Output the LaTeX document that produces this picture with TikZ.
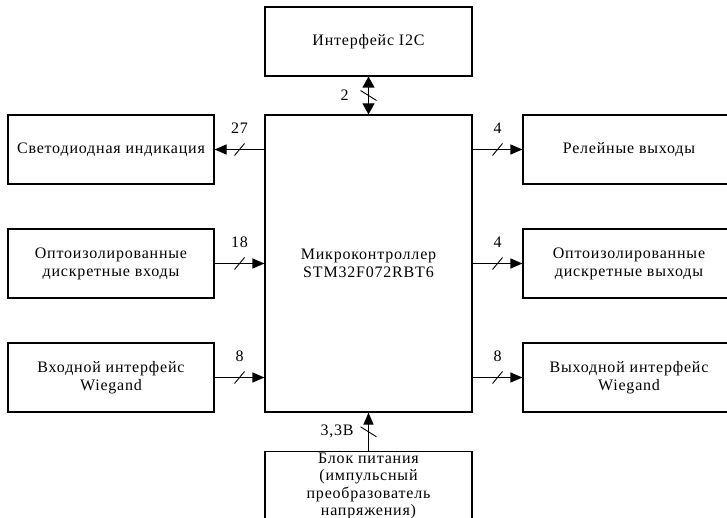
\documentclass[tikz,border=0pt]{standalone}
\usepackage{fontspec}
\setmainfont{Liberation Serif}
\newfontfamily\boxfont[LetterSpace=5]{Liberation Serif}
\usetikzlibrary{arrows.meta}

\begin{document}
\begin{tikzpicture}[x=1pt,y=-1pt,
    box/.style={draw,line width=1.2pt,align=center,inner sep=2pt,
      minimum width=206pt,minimum height=69pt,font=\boxfont\fontsize{16}{18}\selectfont},
    bus/.style={line width=1.2pt,-{Triangle[length=12pt,width=10pt]}},
    busboth/.style={line width=1.2pt,{Triangle[length=11pt,width=12pt]}-{Triangle[length=11pt,width=12pt]}},
    busmark/.style={line width=0.9pt},
    num/.style={font=\boxfont\fontsize{16}{18}\selectfont}]
  \clip (0,0) rectangle (727,518);

  % central block
  \node[box,minimum width=207pt,minimum height=297pt] (mcu) at (368.5,263.5) {Микроконтроллер\\STM32F072RBT6};
  \node[box,minimum width=207pt] (i2c) at (368.5,41.5) {Интерфейс I2C};
  \node[box,anchor=north,minimum width=207pt,minimum height=0pt,inner ysep=1pt,
    font=\boxfont\fontsize{16}{17.5}\selectfont] (psu) at (368.5,451)
    {Блок питания\\(импульсный\\преобразователь\\напряжения)};

  % left column
  \node[box] (led) at (111,149.5) {Светодиодная индикация};
  \node[box] (optin) at (111,263.5) {Оптоизолированные\\дискретные входы};
  \node[box] (wgin) at (111,377.5) {Входной интерфейс\\Wiegand};

  % right column
  \node[box,minimum width=212pt] (relay) at (629,149.5) {Релейные выходы};
  \node[box,minimum width=212pt] (optout) at (629,263.5) {Оптоизолированные\\дискретные выходы};
  \node[box,minimum width=212pt] (wgout) at (629,377.5) {Выходной интерфейс\\Wiegand};

  % buses
  \draw[busboth] (i2c.south) -- coordinate[midway] (s0) node[num,midway,left=16pt] {2} (mcu.north);
  \draw[bus] (mcu.west |- led) -- coordinate[midway] (s1) node[num,midway,above=12pt] {27} (led.east);
  \draw[bus] (optin.east) -- coordinate[midway] (s2) node[num,midway,above=12pt] {18} (mcu.west |- optin);
  \draw[bus] (wgin.east) -- coordinate[midway] (s3) node[num,midway,above=12pt] {8} (mcu.west |- wgin);
  \draw[bus] (mcu.east |- relay) -- coordinate[midway] (s4) node[num,midway,above=12pt] {4} (relay.west);
  \draw[bus] (mcu.east |- optout) -- coordinate[midway] (s5) node[num,midway,above=12pt] {4} (optout.west);
  \draw[bus] (mcu.east |- wgout) -- coordinate[midway] (s6) node[num,midway,above=12pt] {8} (wgout.west);
  \draw[bus] (psu.north) -- coordinate[midway] (s7) node[num,midway,left=11pt] {3,3В} (mcu.south);

  % slashes on the buses
  \draw[busmark] (s0) ++(-8,-5) -- ++(16,10);
  \draw[busmark] (s7) ++(-8,-5) -- ++(16,10);
  \draw[busmark] (s1) ++(-5,6) -- ++(10,-12);
  \draw[busmark] (s2) ++(-5,6) -- ++(10,-12);
  \draw[busmark] (s3) ++(-5,6) -- ++(10,-12);
  \draw[busmark] (s4) ++(-5,6) -- ++(10,-12);
  \draw[busmark] (s5) ++(-5,6) -- ++(10,-12);
  \draw[busmark] (s6) ++(-5,6) -- ++(10,-12);
\end{tikzpicture}
\end{document}
